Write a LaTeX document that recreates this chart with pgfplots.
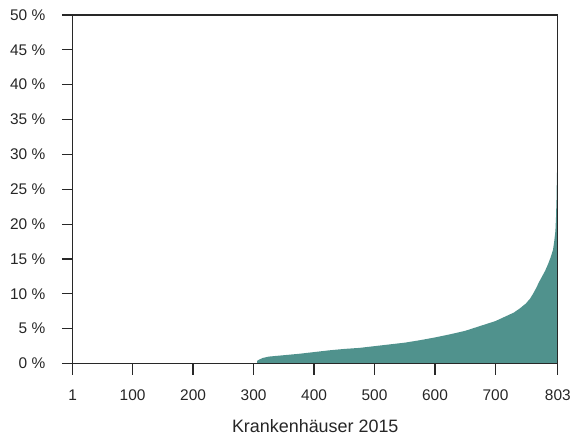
\documentclass[border=0pt]{standalone}
\usepackage{pgfplots}
\pgfplotsset{compat=1.18}
\usepackage{fontspec}
\setmainfont{Liberation Sans}
\definecolor{fillteal}{RGB}{80,146,141}
\definecolor{axisgray}{RGB}{40,40,40}
\begin{document}
\begin{tikzpicture}
\begin{axis}[
  at={(0,0)}, anchor=south west,
  scale only axis,
  width=487bp, height=350bp,
  xmin=1, xmax=803, ymin=0, ymax=50,
  xtick={1,100,200,300,400,500,600,700,803},
  ytick={0,5,...,50},
  yticklabel={\pgfmathprintnumber{\tick}~\%},
  /pgf/number format/assume math mode=true,
  tick align=outside,
  tickwidth=11bp,
  major tick length=11bp,
  xtick pos=bottom, ytick pos=left,
  axis line style={axisgray, line width=1.2bp},
  tick style={axisgray, line width=1.2bp},
  tick label style={font=\fontsize{15.5bp}{18bp}\selectfont, text=black!85},
  yticklabel style={xshift=-13bp},
  xticklabel style={yshift=-12bp},
  xlabel={Krankenhäuser 2015},
  xlabel style={font=\fontsize{18bp}{21bp}\selectfont, text=black!85, yshift=-12bp},
  axis on top,
]
\addplot[fill=fillteal, draw=none] coordinates {
(306,0) (306,0.4) (310,0.6) (315,0.8) (325,1.0) (350,1.2) (375,1.4) (400,1.65)
(425,1.9) (450,2.1) (475,2.25) (500,2.5) (525,2.75) (550,3.0) (575,3.35)
(600,3.75) (625,4.2) (650,4.7) (675,5.4) (700,6.1) (715,6.7) (730,7.3)
(740,7.9) (750,8.6) (757,9.3) (762,10.0) (767,10.8) (772,11.7) (777,12.5)
(782,13.3) (787,14.3) (791,15.2) (795,16.3) (797,17.5) (799,19.0) (800,21.0)
(801,24.0) (801.5,27.4) (803,27.4)
} \closedcycle;
\end{axis}
\path (-73bp,-75bp) rectangle (501bp,365bp);
\end{tikzpicture}
\end{document}
